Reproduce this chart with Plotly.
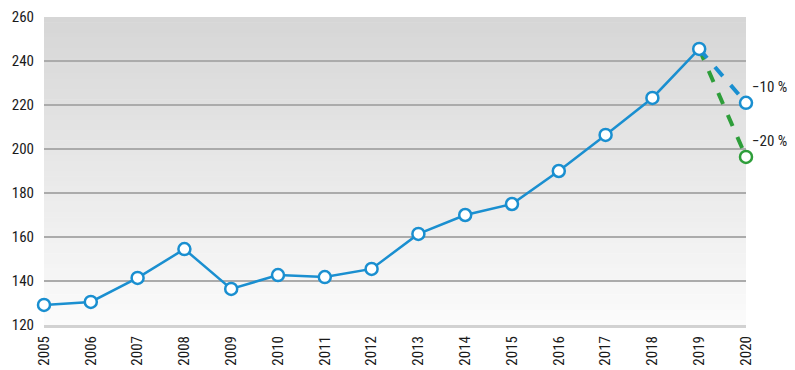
import plotly.graph_objects as go

years = list(range(2005, 2021))
values = [129.1, 130.5, 141.4, 154.5, 136.4, 142.7, 141.8, 145.5, 161.4, 170.0,
          175.0, 190.0, 206.4, 223.2, 245.5]
proj_years = [2019, 2020]
proj_minus10 = [245.5, 221.0]
proj_minus20 = [245.5, 196.4]
proj_labels = ["\u221210 %", "\u221220 %"]
y_ticks = [120, 140, 160, 180, 200, 220, 240, 260]

BLUE = "#1a8fd0"
GREEN = "#2e9e3a"
FONT = "Liberation Sans Narrow, Roboto Condensed, Arial Narrow, sans-serif"

fig = go.Figure()

# gradient background rectangles (styling)
n = 60
top = (214, 214, 214)
bot = (251, 251, 251)
shapes = []
for i in range(n):
    t = i / (n - 1)
    c = tuple(int(round(top[k] + (bot[k] - top[k]) * t)) for k in range(3))
    shapes.append(dict(type="rect", xref="paper", yref="paper",
                       x0=0, x1=1, y1=1 - i / n, y0=1 - (i + 1) / n - 0.002,
                       fillcolor="rgb(%d,%d,%d)" % c, line=dict(width=0), layer="below"))

fig.add_trace(go.Scatter(x=proj_years, y=proj_minus20, mode="lines",
                         line=dict(color=GREEN, width=4, dash="dash"),
                         cliponaxis=False, showlegend=False))
fig.add_trace(go.Scatter(x=proj_years, y=proj_minus10, mode="lines",
                         line=dict(color=BLUE, width=4, dash="dash"),
                         cliponaxis=False, showlegend=False))
fig.add_trace(go.Scatter(x=years[:len(values)], y=values, mode="lines+markers",
                         line=dict(color=BLUE, width=2.5),
                         marker=dict(size=12, color="white", line=dict(color=BLUE, width=2.5)),
                         cliponaxis=False, showlegend=False))
fig.add_trace(go.Scatter(x=proj_years[1:], y=proj_minus10[1:], mode="markers",
                         marker=dict(size=12, color="white", line=dict(color=BLUE, width=2.5)),
                         cliponaxis=False, showlegend=False))
fig.add_trace(go.Scatter(x=proj_years[1:], y=proj_minus20[1:], mode="markers",
                         marker=dict(size=12, color="white", line=dict(color=GREEN, width=2.5)),
                         cliponaxis=False, showlegend=False))

annotations = []
for yv, lab in zip([proj_minus10[1], proj_minus20[1]], proj_labels):
    annotations.append(dict(x=2020, y=yv, text=lab, showarrow=False,
                            xanchor="left", yanchor="bottom", xshift=4, yshift=5,
                            font=dict(family=FONT, size=15, color="#222")))

fig.update_layout(
    width=795, height=370,
    margin=dict(l=44, r=49, t=17, b=45, autoexpand=False),
    paper_bgcolor="white", plot_bgcolor="rgba(0,0,0,0)",
    shapes=shapes, annotations=annotations,
    font=dict(family=FONT, size=15, color="#1a1a1a"),
    xaxis=dict(range=[2005, 2020], tickvals=years, ticktext=[str(y) for y in years],
               tickangle=-90, showgrid=False, zeroline=False, showline=True,
               linecolor="#d2d2d2", linewidth=3,
               ticks="", ticklabelstandoff=2, automargin=False),
    yaxis=dict(range=[120, 260], tickvals=y_ticks, showgrid=True, gridcolor="#ababab",
               gridwidth=1.5, zeroline=False, showline=False,
               ticks="", ticklabelstandoff=9, automargin=False),
)

fig.write_html("out.html", config={"displayModeBar": False},
               post_script="document.body.style.margin='0px';document.body.style.padding='0px';")
